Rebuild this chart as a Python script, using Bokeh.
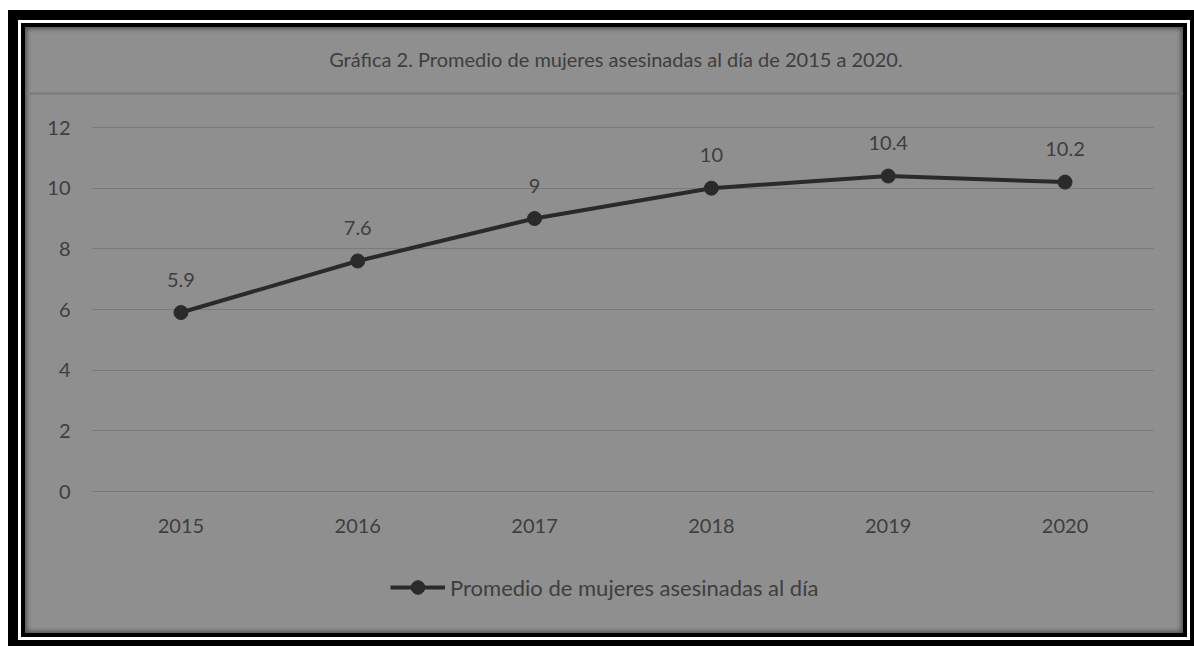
from bokeh.plotting import figure
from bokeh.models import (ColumnDataSource, Range1d, LabelSet, Label, Grid,
                          BoxAnnotation, Legend, LegendItem, FixedTicker, LinearAxis)
from bokeh.embed import file_html
from bokeh.resources import INLINE
from bokeh.core.properties import value

# ---- data ----
years = ["2015", "2016", "2017", "2018", "2019", "2020"]
promedio = [5.9, 7.6, 9, 10, 10.4, 10.2]
value_labels = ["5.9", "7.6", "9", "10", "10.4", "10.2"]
y_ticks = [0, 2, 4, 6, 8, 10, 12]
title_text = "Gráfica 2. Promedio de mujeres asesinadas al día de 2015 a 2020."
series_name = "Promedio de mujeres asesinadas al día"

# ---- styles ----
BG = "#8f8f8f"
TXT = "#3e3e3e"
GRID = "#7a7a7a"
LINE = "#2a2a2a"
FONT = "Lato"

pos = list(range(len(years)))  # category slots
src = ColumnDataSource(dict(x=pos, val=promedio, lab=value_labels))

W, H = 1158, 606
p = figure(x_range=Range1d(-0.879, 5.670), y_range=Range1d(-4.681, 15.297),
           width=W, height=H, output_backend="svg", toolbar_location=None,
           min_border=0, x_axis_location=None, y_axis_location=None)
p.margin = (27, 0, 0, 25)
p.styles = {"background-color": BG,
            "box-shadow": "inset 0 0 4px 2px #505050, 0 0 0 4px #000000, "
                          "0 0 0 7px #ffffff, 0 0 0 17px #000000"}
p.background_fill_alpha = 0
p.border_fill_alpha = 0
p.outline_line_color = None

# remove the default grids that figure() creates
for g in list(p.center):
    if isinstance(g, Grid):
        g.visible = False

xaxis = LinearAxis(fixed_location=0, ticker=FixedTicker(ticks=pos),
                   major_label_overrides={i: y for i, y in zip(pos, years)})
yaxis = LinearAxis(fixed_location=-0.5, ticker=FixedTicker(ticks=y_ticks))
p.add_layout(xaxis, "below")
p.add_layout(yaxis, "left")
for ax in (xaxis, yaxis):
    ax.axis_line_color = None
    ax.major_tick_line_color = None
    ax.minor_tick_line_color = None
    ax.major_label_text_font = FONT
    ax.major_label_text_font_size = "20px"
    ax.major_label_text_color = TXT
xaxis.major_label_standoff = 21
yaxis.major_label_standoff = 16

ygrid = Grid(dimension=1, ticker=yaxis.ticker, grid_line_color=GRID,
             grid_line_width=1.2)
if "cross_bounds" in Grid.properties():
    ygrid.cross_bounds = (-0.5, 5.5)
p.add_layout(ygrid)

r_line = p.line(x="x", y="val", source=src, line_width=4, line_color=LINE)
r_pts = p.scatter(x="x", y="val", source=src, size=14, fill_color=LINE,
                  line_color=LINE)

labels = LabelSet(x="x", y="val", text="lab", source=src, y_offset=33,
                  text_align="center", text_baseline="middle",
                  text_font=value(FONT), text_font_size="20px", text_color=TXT)
p.add_layout(labels)

title = Label(x=2.46, y=14.275, text=title_text, text_align="center",
              text_baseline="middle", text_font=FONT, text_font_size="20px",
              text_color=TXT)
p.add_layout(title)

sep = BoxAnnotation(top=13.154, bottom=13.088, fill_color=GRID, fill_alpha=1,
                    line_color=None)
p.add_layout(sep)

legend = Legend(items=[LegendItem(label=series_name, renderers=[r_line, r_pts])],
                orientation="horizontal", location=(365, 29),
                border_line_color=None, background_fill_alpha=0,
                label_text_font=FONT, label_text_font_size="22px",
                label_text_color=TXT, glyph_width=55, glyph_height=34,
                margin=0, padding=0, spacing=0, label_standoff=5)
p.add_layout(legend, "center")

open("out.html", "w").write(file_html(p, INLINE))
